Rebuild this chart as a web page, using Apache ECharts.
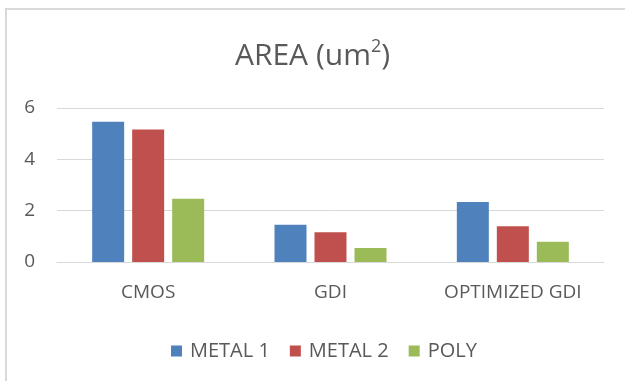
<!DOCTYPE html>
<html>
<head>
<meta charset="utf-8">
<script src="https://cdn.jsdelivr.net/npm/echarts@6/dist/echarts.min.js"></script>
<style>
  html, body { margin: 0; padding: 0; background: #ffffff; }
  #chart { width: 625px; height: 381px; }
</style>
</head>
<body>
<div id="chart"></div>
<script>
// Layout area per design type and layer
const categories = ['CMOS', 'GDI', 'OPTIMIZED GDI'];
const seriesNames = ['METAL 1', 'METAL 2', 'POLY'];
const metal1 = [5.46, 1.45, 2.34];
const metal2 = [5.16, 1.16, 1.39];
const poly = [2.46, 0.55, 0.79];
const seriesColors = ['#4F81BD', '#C0504D', '#9BBB59'];

const textColor = '#595959';
const lineColor = '#D9D9D9';
const fontFamily = '"Open Sans", "Noto Sans", sans-serif';

const chart = echarts.init(document.getElementById('chart'), null, { renderer: 'canvas' });

const seriesData = [metal1, metal2, poly];

chart.setOption({
  animation: false,
  backgroundColor: '#ffffff',
  graphic: [{
    type: 'rect',
    shape: { x: 6, y: 9, width: 700, height: 500 },
    style: { fill: 'none', stroke: lineColor, lineWidth: 2 },
    silent: true
  }],
  title: {
    text: 'AREA (um{sup|2})',
    left: 'center',
    top: 33,
    textStyle: {
      color: textColor,
      fontFamily: fontFamily,
      fontSize: 30,
      fontWeight: 'normal',
      lineHeight: 36,
      rich: {
        sup: {
          color: textColor,
          fontFamily: fontFamily,
          fontSize: 18,
          verticalAlign: 'top',
          lineHeight: 36,
          padding: [0, 0, 12, 0]
        }
      }
    }
  },
  legend: {
    data: seriesNames,
    left: 166,
    top: 336,
    itemWidth: 11,
    itemHeight: 11,
    itemGap: 20,
    icon: 'rect',
    textStyle: {
      color: textColor,
      fontFamily: fontFamily,
      fontSize: 20,
      lineHeight: 20,
      padding: [0, 0, 0, 3]
    }
  },
  grid: {
    left: 57,
    right: 21,
    top: 108,
    bottom: 119,
    containLabel: false
  },
  xAxis: {
    type: 'category',
    data: categories,
    axisLine: { show: true, lineStyle: { color: lineColor, width: 1 } },
    axisTick: { show: false },
    axisLabel: {
      color: textColor,
      fontFamily: fontFamily,
      fontSize: 19,
      lineHeight: 20,
      margin: 21,
      interval: 0
    }
  },
  yAxis: {
    type: 'value',
    min: 0,
    max: 6,
    interval: 2,
    axisLine: { show: false },
    axisTick: { show: false },
    splitLine: { lineStyle: { color: lineColor, width: 1 } },
    axisLabel: {
      color: textColor,
      fontFamily: fontFamily,
      fontSize: 19,
      margin: 22
    }
  },
  series: seriesNames.map((name, i) => ({
    name: name,
    type: 'bar',
    data: seriesData[i],
    barWidth: 32,
    barGap: '25%',
    itemStyle: { color: seriesColors[i] }
  }))
});
</script>
</body>
</html>
